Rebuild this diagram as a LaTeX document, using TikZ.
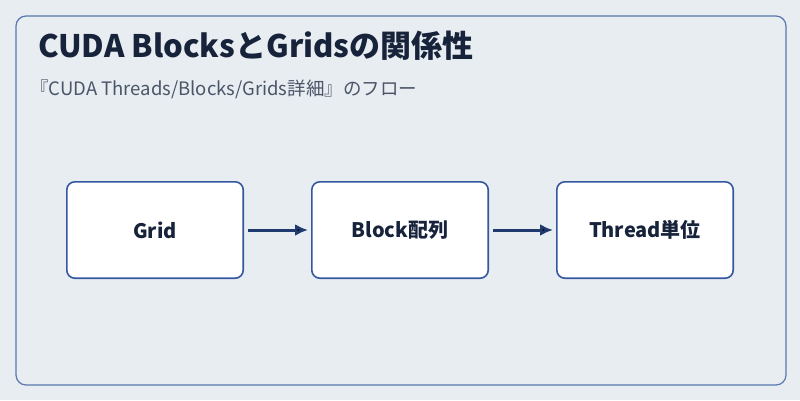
\documentclass[tikz,border=0pt]{standalone}
\usepackage{fontspec}
\setmainfont{Noto Sans CJK JP}
\usetikzlibrary{positioning,arrows.meta}
\definecolor{bgcol}{HTML}{E8EDF2}
\definecolor{framecol}{HTML}{5A77AE}
\definecolor{boxcol}{HTML}{3557A0}
\definecolor{arrowcol}{HTML}{1F3A6E}
\definecolor{titlecol}{HTML}{17233A}
\definecolor{subcol}{HTML}{4A5568}
\tikzset{
  stage/.style={draw=boxcol,line width=1.6pt,fill=white,rounded corners=8pt,
    minimum width=176.4pt,minimum height=96.4pt,text=titlecol,font=\bfseries\fontsize{20}{24}\selectfont},
  flow/.style={-{Latex[length=13pt,width=12pt]},draw=arrowcol,line width=3pt,shorten >=3pt,shorten <=4pt}
}
\begin{document}
\begin{tikzpicture}[x=1pt,y=-1pt,node distance=67pt]
	\useasboundingbox (0,0) rectangle (800,400);
	\fill[bgcol] (0,0) rectangle (800,400);
	\draw[framecol,line width=1.2pt,rounded corners=10pt] (16,16) rectangle (786,385);
	
	\node[anchor=west,text=titlecol,font=\bfseries\fontsize{31}{36}\selectfont,inner sep=0pt] (title) at (38,46) {CUDA BlocksとGridsの関係性};
	\node[anchor=west,text=subcol,font=\fontsize{18.5}{22}\selectfont,inner sep=0pt] (sub) at (30,89) {『CUDA Threads/Blocks/Grids詳細』のフロー};
	
	\node[stage] (grid) at (155,230) {Grid};
	\node[stage] (block) [right=of grid] {Block配列};
	\node[stage] (thread) [right=of block] {Thread単位};
	
	\path[flow] (grid) edge (block);
	\path[flow] (block) edge (thread);
\end{tikzpicture}
\end{document}
